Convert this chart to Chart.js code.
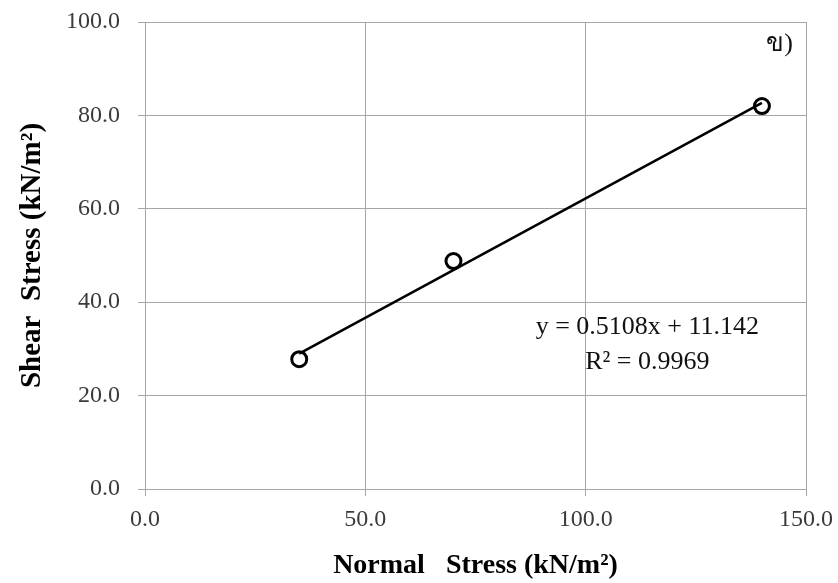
<!DOCTYPE html>
<html>
<head>
<meta charset="utf-8">
<script src="https://cdn.jsdelivr.net/npm/chart.js@4.4.0/dist/chart.umd.min.js"></script>
<style>
  html, body { margin: 0; padding: 0; background: #fff; }
  #wrap { width: 838px; height: 583px; }
</style>
</head>
<body>
<div id="wrap"><canvas id="stressChart" width="838" height="583"></canvas></div>
<script>
// Measured points (normal stress vs shear stress)
const normalStress = [35, 70, 140];
const shearStress = [27.8, 48.8, 82.0];

// Trendline end points
const trendX = [35, 140];
const trendY = [29.0, 82.7];

// Axis settings
const xTicks = [0, 50, 100, 150];
const yTicks = [0, 20, 40, 60, 80, 100];

// Texts on the plot
const equationText = 'y = 0.5108x + 11.142';
const r2Text = 'R² = 0.9969';
const panelLabel = 'ข)';

const serif = '"Liberation Serif", "Times New Roman", serif';

// Plugin to draw the equation and panel label inside the chart area
const notesPlugin = {
    id: 'notes',
    afterDatasetsDraw(chart) {
        const ctx = chart.ctx;
        const x = chart.scales.x;
        const y = chart.scales.y;
        ctx.save();
        ctx.fillStyle = '#111';
        ctx.textAlign = 'center';
        ctx.textBaseline = 'middle';
        ctx.font = '26px ' + serif;
        ctx.fillText(equationText, x.getPixelForValue(114.0), y.getPixelForValue(34.7));
        ctx.fillText(r2Text, x.getPixelForValue(114.0), y.getPixelForValue(27.2));
        ctx.font = '26px ' + serif;
        ctx.fillText(panelLabel, x.getPixelForValue(144.0), y.getPixelForValue(95.2));
        ctx.restore();
    }
};

const ctx = document.getElementById('stressChart').getContext('2d');
const chart = new Chart(ctx, {
    type: 'scatter',
    data: {
        datasets: [{
            label: 'Trend',
            type: 'line',
            data: trendX.map((v, i) => ({x: v, y: trendY[i]})),
            borderColor: '#000',
            borderWidth: 2.5,
            pointRadius: 0,
            fill: false
        }, {
            label: 'Data',
            data: normalStress.map((v, i) => ({x: v, y: shearStress[i]})),
            pointRadius: 7.5,
            pointBorderWidth: 3,
            pointBorderColor: '#000',
            pointBackgroundColor: '#fff'
        }]
    },
    options: {
        responsive: false,
        animation: false,
        layout: { autoPadding: false, padding: { top: 22, right: 32, left: 0, bottom: 0 } },
        plugins: {
            legend: { display: false },
            tooltip: { enabled: false }
        },
        scales: {
            x: {
                type: 'linear',
                min: 0,
                max: 150,
                afterBuildTicks: s => { s.ticks = xTicks.map(v => ({value: v})); },
                afterFit: s => { s.height = 94; s.paddingLeft = 0; s.paddingRight = 0; },
                grid: { color: '#a6a6a6', lineWidth: 1, tickLength: 7 },
                border: { color: '#a6a6a6' },
                ticks: {
                    padding: 9,
                    color: '#3a3a3a',
                    font: { family: serif, size: 24 },
                    maxRotation: 0,
                    callback: v => v.toFixed(1)
                },
                title: {
                    display: true,
                    text: 'Normal   Stress (kN/m²)',
                    color: '#000',
                    font: { family: serif, size: 28, weight: 'bold' },
                    padding: { top: 0, bottom: 0 }
                }
            },
            y: {
                min: 0,
                max: 100,
                afterBuildTicks: s => { s.ticks = yTicks.map(v => ({value: v})); },
                afterFit: s => { s.width = 145; s.paddingTop = 0; s.paddingBottom = 0; },
                grid: { color: '#a6a6a6', lineWidth: 1, tickLength: 7 },
                border: { color: '#a6a6a6' },
                ticks: {
                    padding: 18,
                    color: '#3a3a3a',
                    font: { family: serif, size: 24 },
                    callback: v => v.toFixed(1)
                },
                title: {
                    display: true,
                    text: 'Shear  Stress (kN/m²)',
                    color: '#000',
                    font: { family: serif, size: 29, weight: 'bold' },
                    padding: { top: 15, bottom: 0 }
                }
            }
        }
    },
    plugins: [notesPlugin]
});
</script>
</body>
</html>
